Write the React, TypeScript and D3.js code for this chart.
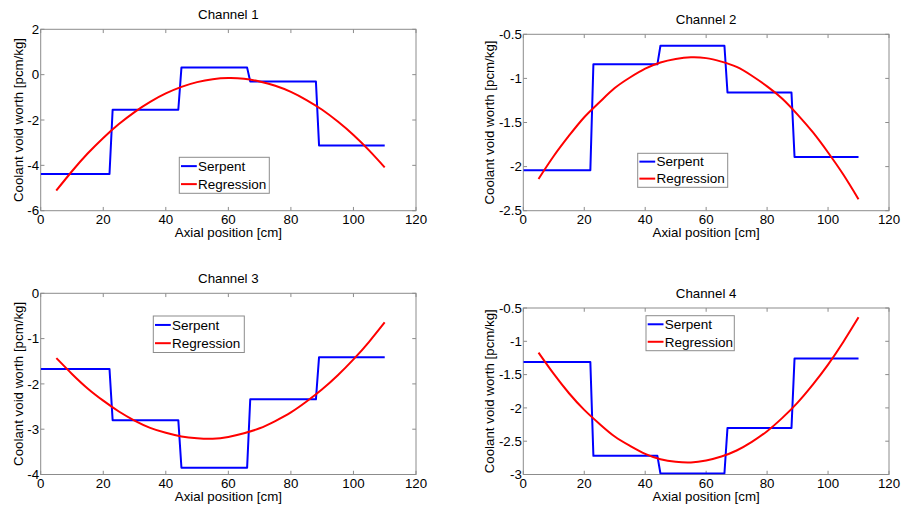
import React from "react";
import * as d3 from "d3";

// ---------- data ----------
const xTicks = [0, 20, 40, 60, 80, 100, 120];
const serpentX = [0, 22, 23, 44, 45, 66, 67, 88, 89, 110];
const regX = [5, 10, 15, 20, 25, 30, 35, 40, 45, 50, 55, 60, 65, 70, 75, 80, 85, 90, 95, 100, 105, 110];

const ch1Serpent = [-4.38, -4.38, -1.55, -1.55, 0.31, 0.31, -0.3, -0.3, -3.12, -3.12];
const ch1Reg = [-5.11, -4.26, -3.48, -2.79, -2.18, -1.65, -1.2, -0.83, -0.54, -0.33, -0.2, -0.15, -0.18, -0.3, -0.49, -0.76, -1.12, -1.55, -2.07, -2.66, -3.34, -4.09];
const ch1YTicks = [-6, -4, -2, 0, 2];

const ch2Serpent = [-2.04, -2.04, -0.84, -0.84, -0.63, -0.63, -1.16, -1.16, -1.89, -1.89];
const ch2Reg = [-2.14, -1.88, -1.65, -1.44, -1.27, -1.11, -0.99, -0.89, -0.82, -0.78, -0.76, -0.77, -0.81, -0.87, -0.97, -1.09, -1.23, -1.41, -1.61, -1.84, -2.09, -2.37];
const ch2YTicks = [-2.5, -2, -1.5, -1, -0.5];

const ch3Serpent = [-1.67, -1.67, -2.8, -2.8, -3.85, -3.85, -2.34, -2.34, -1.41, -1.41];
const ch3Reg = [-1.43, -1.78, -2.1, -2.37, -2.61, -2.81, -2.97, -3.08, -3.16, -3.2, -3.21, -3.17, -3.09, -2.98, -2.82, -2.63, -2.39, -2.12, -1.81, -1.46, -1.07, -0.64];
const ch3YTicks = [-4, -3, -2, -1, 0];

const ch4Serpent = [-1.31, -1.31, -2.72, -2.72, -2.985, -2.985, -2.3, -2.3, -1.26, -1.26];
const ch4Reg = [-1.17, -1.49, -1.78, -2.03, -2.24, -2.43, -2.57, -2.69, -2.77, -2.81, -2.82, -2.79, -2.73, -2.64, -2.51, -2.35, -2.15, -1.92, -1.65, -1.35, -1.01, -0.64];
const ch4YTicks = [-3, -2.5, -2, -1.5, -1, -0.5];

const titles = ["Channel 1", "Channel 2", "Channel 3", "Channel 4"];
const seriesNames = ["Serpent", "Regression"];
const xLabel = "Axial position [cm]";
const yLabel = "Coolant void worth [pcm/kg]";

// ---------- layout ----------
const FONT = "'Liberation Sans', Arial, Helvetica, sans-serif";
const AXIS_COLOR = "#8c8c8c";

type Panel = {
  title: string;
  serpent: number[];
  reg: number[];
  yTicks: number[];
  yLabelOffset: number;
  box: { l: number; r: number; t: number; b: number };
  legend: { x: number; y: number; w: number; h: number };
};

const panels: Panel[] = [
  { title: titles[0], serpent: ch1Serpent, reg: ch1Reg, yTicks: ch1YTicks, yLabelOffset: 17.5,
    box: { l: 40.7, r: 416, t: 29.3, b: 210.7 }, legend: { x: 179.3, y: 157.3, w: 90, h: 36 } },
  { title: titles[1], serpent: ch2Serpent, reg: ch2Reg, yTicks: ch2YTicks, yLabelOffset: 29.3,
    box: { l: 523.3, r: 889, t: 34.3, b: 210.7 }, legend: { x: 637.7, y: 153.3, w: 90, h: 34 } },
  { title: titles[2], serpent: ch3Serpent, reg: ch3Reg, yTicks: ch3YTicks, yLabelOffset: 17.5,
    box: { l: 40.7, r: 416, t: 293.3, b: 474.5 }, legend: { x: 153.3, y: 316, w: 91, h: 36.5 } },
  { title: titles[3], serpent: ch4Serpent, reg: ch4Reg, yTicks: ch4YTicks, yLabelOffset: 29.3,
    box: { l: 523.3, r: 889, t: 308, b: 474.5 }, legend: { x: 646, y: 315.7, w: 88.3, h: 35 } },
];

function ChartPanel({ p }: { p: Panel }) {
  const { l, r, t, b } = p.box;
  const yMin = p.yTicks[0];
  const yMax = p.yTicks[p.yTicks.length - 1];
  const x = d3.scaleLinear().domain([0, 120]).range([l, r]);
  const y = d3.scaleLinear().domain([yMin, yMax]).range([b, t]);
  const tickLen = 3.75;

  const serpentPts: [number, number][] = serpentX.map((v, i) => [v, p.serpent[i]]);
  const regPts: [number, number][] = regX.map((v, i) => [v, p.reg[i]]);
  const lineLin = d3.line<[number, number]>().x((d) => x(d[0])).y((d) => y(d[1]));
  const lineSmooth = d3.line<[number, number]>().x((d) => x(d[0])).y((d) => y(d[1])).curve(d3.curveNatural);

  const clipId = "clip-" + p.title.replace(/\s/g, "");
  const lg = p.legend;
  const row1 = lg.y + lg.h * 0.245;
  const row2 = lg.y + lg.h * 0.745;

  return (
    <g>
      <defs>
        <clipPath id={clipId}>
          <rect x={l} y={t} width={r - l} height={b - t} />
        </clipPath>
      </defs>
      <rect x={l} y={t} width={r - l} height={b - t} fill="#fff" />
      {/* ticks */}
      {xTicks.map((v) => (
        <g key={"xt" + v}>
          <line x1={x(v)} x2={x(v)} y1={b} y2={b - tickLen} stroke={AXIS_COLOR} strokeWidth={1} />
          <line x1={x(v)} x2={x(v)} y1={t} y2={t + tickLen} stroke={AXIS_COLOR} strokeWidth={1} />
          <text x={x(v)} y={b + 13.5} textAnchor="middle" fontSize={13.3} fontFamily={FONT} fill="#000">
            {String(v)}
          </text>
        </g>
      ))}
      {p.yTicks.map((v) => (
        <g key={"yt" + v}>
          <line x1={l} x2={l + tickLen} y1={y(v)} y2={y(v)} stroke={AXIS_COLOR} strokeWidth={1} />
          <line x1={r} x2={r - tickLen} y1={y(v)} y2={y(v)} stroke={AXIS_COLOR} strokeWidth={1} />
          <text x={l - 1.5} y={y(v) + 4.7} textAnchor="end" fontSize={13.3} fontFamily={FONT} fill="#000">
            {String(v)}
          </text>
        </g>
      ))}
      <rect x={l} y={t} width={r - l} height={b - t} fill="none" stroke={AXIS_COLOR} strokeWidth={1} />
      {/* data */}
      <g clipPath={`url(#${clipId})`}>
        <path d={lineLin(serpentPts) || ""} fill="none" stroke="#0000ff" strokeWidth={2} strokeLinejoin="round" />
        <path d={lineSmooth(regPts) || ""} fill="none" stroke="#ff0000" strokeWidth={2} strokeLinejoin="round" />
      </g>
      {/* title & labels */}
      <text x={(l + r) / 2} y={t - 10.3} textAnchor="middle" fontSize={13.3} fontFamily={FONT} fill="#000">
        {p.title}
      </text>
      <text x={(l + r) / 2} y={b + 26.7} textAnchor="middle" fontSize={13.3} fontFamily={FONT} fill="#000">
        {xLabel}
      </text>
      <text
        transform={`translate(${l - p.yLabelOffset},${(t + b) / 2}) rotate(-90)`}
        textAnchor="middle"
        fontSize={13.3}
        fontFamily={FONT}
        fill="#000"
      >
        {yLabel}
      </text>
      {/* legend */}
      <rect x={lg.x} y={lg.y} width={lg.w} height={lg.h} fill="#fff" stroke={AXIS_COLOR} strokeWidth={1} />
      <line x1={lg.x + 1.7} x2={lg.x + 17.5} y1={row1} y2={row1} stroke="#0000ff" strokeWidth={2} />
      <line x1={lg.x + 1.7} x2={lg.x + 17.5} y1={row2} y2={row2} stroke="#ff0000" strokeWidth={2} />
      <text x={lg.x + 18.7} y={row1 + 4.8} fontSize={13.5} fontFamily={FONT} fill="#000">
        {seriesNames[0]}
      </text>
      <text x={lg.x + 18.7} y={row2 + 4.8} fontSize={13.5} fontFamily={FONT} fill="#000">
        {seriesNames[1]}
      </text>
    </g>
  );
}

export default function App() {
  return (
    <svg
      width={901}
      height={511}
      viewBox="0 0 901 511"
      style={{ position: "absolute", left: 0, top: 0, display: "block", background: "#fff" }}
    >
      <rect x={0} y={0} width={901} height={511} fill="#fff" />
      {panels.map((p) => (
        <ChartPanel key={p.title} p={p} />
      ))}
    </svg>
  );
}
